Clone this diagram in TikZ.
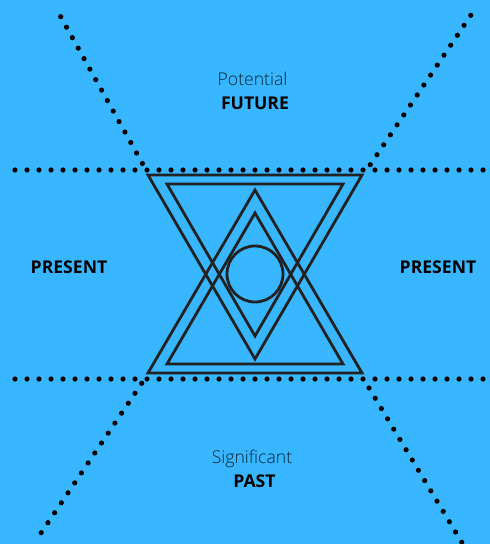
\documentclass[tikz,border=0pt]{standalone}
\usepackage{fontspec}
\setmainfont{Open Sans}
\newfontfamily\lightfont{Open Sans Light}
\definecolor{bgblue}{HTML}{38B6FF}
\definecolor{ink}{HTML}{222222}
\begin{document}
\begin{tikzpicture}[x=1pt,y=-1pt,
  dotline/.style={line width=5.2pt,line cap=round,dash pattern=on 0pt off 12pt,black},
  tri/.style={draw=ink,line width=2.8pt,line join=miter},
  lighttext/.style={font=\lightfont\fontsize{17.6}{20}\selectfont,text=black!80!bgblue},
  boldtext/.style={font=\bfseries\fontsize{17.6}{20}\selectfont,text=black}]
\fill[bgblue] (0,0) rectangle (490,544);
\useasboundingbox (0,0) rectangle (490,544);
% dotted lines
\coordinate (hl1) at (15,170); \coordinate (hr1) at (483,170);
\coordinate (hl2) at (15,379); \coordinate (hr2) at (483,379);
\coordinate (tl0) at (142.7,164); \coordinate (tl1) at (60.7,16.7);
\coordinate (tr0) at (370.3,164.7); \coordinate (tr1) at (471,15);
\coordinate (bl0) at (141.7,383.3); \coordinate (bl1) at (41,533);
\coordinate (br0) at (369,388); \coordinate (br1) at (462,542.7);
\draw[dotline] (hl1) -- (hr1);
\draw[dotline] (hl2) -- (hr2);
\draw[dotline] (tl1) -- (tl0);
\draw[dotline] (tr0) -- (tr1);
\draw[dotline] (bl0) -- (bl1);
\draw[dotline] (br0) -- (br1);
% triangles
\draw[tri] (148,175) -- (362,175) -- (255,359) -- cycle;
\draw[tri] (167,184) -- (343,184) -- (255,336) -- cycle;
\draw[tri] (148,373) -- (362,373) -- (255,190) -- cycle;
\draw[tri] (167,364) -- (343,364) -- (255,213) -- cycle;
\node[draw=ink,line width=2.8pt,circle,minimum size=56pt,inner sep=0pt] (c) at (255,274) {};
% labels
\node[lighttext] (pot) at (252.5,79) {Potential};
\node[boldtext] (fut) at (255,103) {FUTURE};
\node[lighttext] (sig) at (252,459) {Significant};
\node[boldtext] (past) at (254.5,481.5) {PAST};
\node[boldtext] (prl) at (69,267) {PRESENT};
\node[boldtext] (prr) at (438,267) {PRESENT};
\end{tikzpicture}
\end{document}
